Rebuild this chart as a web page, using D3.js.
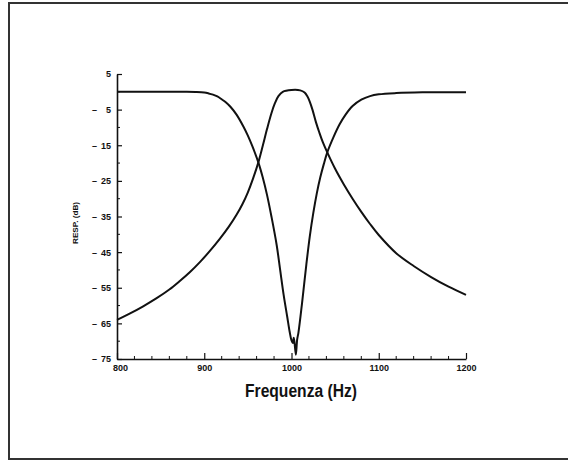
<!DOCTYPE html>
<html>
<head>
<meta charset="utf-8">
<script src="https://cdn.jsdelivr.net/npm/d3@7"></script>
<style>
  html, body { margin: 0; padding: 0; background: #fff; }
  svg { display: block; }
  text { font-family: "Liberation Sans", Arial, sans-serif; font-weight: bold; fill: #111; }
</style>
</head>
<body>
<svg id="chart" width="568" height="463"></svg>
<script>
// ---- Data ----
const xTicks = [800, 900, 1000, 1100, 1200];
const yTicks = [5, -5, -15, -25, -35, -45, -55, -65, -75];

// Band-pass response (peak around 1000 Hz)
const bandPassFreq = [800, 815, 830, 845, 860, 872, 884, 895, 906, 918, 928, 937, 944, 950, 956, 962, 967, 972, 977, 981, 985, 990, 1000, 1010, 1015, 1018, 1021, 1024, 1028, 1032, 1036, 1041, 1050, 1060, 1070, 1080, 1090, 1100, 1120, 1140, 1160, 1180, 1200];
const bandPassDb   = [-64, -62.2, -60.2, -58, -55.5, -53.1, -50.5, -47.8, -44.8, -41.2, -37.9, -34.5, -31.4, -28.2, -24.3, -19.8, -15.2, -10.4, -6, -3.2, -1.2, 0, 0.5, 0.4, -0.2, -1.2, -2.8, -5, -8.5, -11.5, -14.2, -17, -21.6, -26, -30, -33.7, -37.1, -40.2, -45.3, -48.9, -52, -54.7, -57];

// Band-stop (notch) response
const bandStopFreq = [800, 850, 880, 890, 900, 905, 910, 915, 920, 925, 930, 937, 945, 950, 955, 962, 967, 972, 977, 983, 987, 991, 995, 998, 1000, 1001.5, 1002.5, 1003.5, 1005, 1006.5, 1008, 1012, 1017, 1021, 1025, 1029, 1033, 1037, 1041, 1048, 1055, 1062, 1070, 1080, 1090, 1100, 1120, 1150, 1200];
const bandStopDb   = [0, 0, 0, -0.05, -0.2, -0.45, -0.8, -1.3, -2.1, -3, -4.2, -6.4, -9.8, -12.3, -15.2, -19.8, -24, -29, -35, -43, -50, -57, -63, -67.5, -69.8, -70.5, -69, -70.5, -73.8, -69.5, -67.5, -59.5, -48.5, -40.5, -34, -28.5, -24, -20.3, -17, -12.8, -9.2, -6.4, -4, -2.2, -1.2, -0.7, -0.35, -0.15, -0.1];

const xTitle = "Frequenza (Hz)";
const yTitle = "RESP. (dB)";

// ---- Drawing ----
const svg = d3.select("#chart");

// frame
svg.append("path").attr("d", "M568,3 L9,3 L9,459 L568,459")
  .attr("stroke", "#333").attr("stroke-width", 2).attr("fill", "none");

const x = d3.scaleLinear().domain([800, 1200]).range([117, 466]);
const y = d3.scaleLinear().domain([-75, 5]).range([359, 74]);

// x axis
const xAxis = svg.append("g").attr("transform", `translate(0,${y(-75)})`)
  .call(d3.axisBottom(x).tickValues(xTicks).tickFormat(d3.format("d")).tickSizeInner(-6).tickSizeOuter(0).tickPadding(6));
xAxis.select(".domain").attr("stroke", "#111").attr("stroke-width", 1.6);
xAxis.selectAll(".tick line").attr("stroke", "#111").attr("stroke-width", 1.2);
xAxis.selectAll(".tick text").attr("font-size", 9).attr("fill", "#111")
  .attr("dx", d => d === 800 ? 3 : 0);
// x minor ticks
svg.append("g").selectAll("line")
  .data(d3.range(820, 1200, 20).filter(v => v % 100 !== 0))
  .join("line")
  .attr("x1", d => x(d)).attr("x2", d => x(d))
  .attr("y1", y(-75)).attr("y2", y(-75) - 3)
  .attr("stroke", "#111").attr("stroke-width", 1);

// y axis
const yAxis = svg.append("g").attr("transform", `translate(${x(800)},0)`)
  .call(d3.axisLeft(y).tickValues(yTicks).tickFormat(d => String(Math.abs(d))).tickSizeInner(-5).tickSizeOuter(0).tickPadding(6));
yAxis.select(".domain").attr("stroke", "#111").attr("stroke-width", 1.6);
yAxis.selectAll(".tick line").attr("stroke", "#111").attr("stroke-width", 1.2);
yAxis.selectAll(".tick text").attr("font-size", 9).attr("fill", "#111");
// minus signs placed separately (as in the original typeset labels)
yAxis.selectAll(".tick").filter(d => d < 0).append("text")
  .attr("x", 92 - x(800)).attr("dy", "0.32em")
  .attr("text-anchor", "start").attr("font-size", 9).attr("fill", "#111")
  .text("–");
// y minor ticks
svg.append("g").selectAll("line")
  .data(d3.range(-70, 5, 10))
  .join("line")
  .attr("x1", x(800)).attr("x2", x(800) + 3)
  .attr("y1", d => y(d)).attr("y2", d => y(d))
  .attr("stroke", "#111").attr("stroke-width", 1);

// curves
const line = d3.line().x(d => x(d[0])).y(d => y(d[1])).curve(d3.curveCatmullRom.alpha(0.5));
const bandPass = bandPassFreq.map((f, i) => [f, bandPassDb[i]]);
const bandStop = bandStopFreq.map((f, i) => [f, bandStopDb[i]]);
svg.append("path").datum(bandPass).attr("d", line)
  .attr("fill", "none").attr("stroke", "#111").attr("stroke-width", 2).attr("stroke-linejoin", "round");
svg.append("path").datum(bandStop).attr("d", line)
  .attr("fill", "none").attr("stroke", "#111").attr("stroke-width", 2).attr("stroke-linejoin", "round");

// titles
svg.append("text").attr("x", 301).attr("y", 397).attr("text-anchor", "middle")
  .attr("font-size", 18).attr("textLength", 112).attr("lengthAdjust", "spacingAndGlyphs")
  .text(xTitle);
svg.append("text").attr("transform", "translate(78,223) rotate(-90)").attr("text-anchor", "middle")
  .attr("font-size", 6.5).attr("textLength", 42).attr("lengthAdjust", "spacingAndGlyphs")
  .text(yTitle);
</script>
</body>
</html>
